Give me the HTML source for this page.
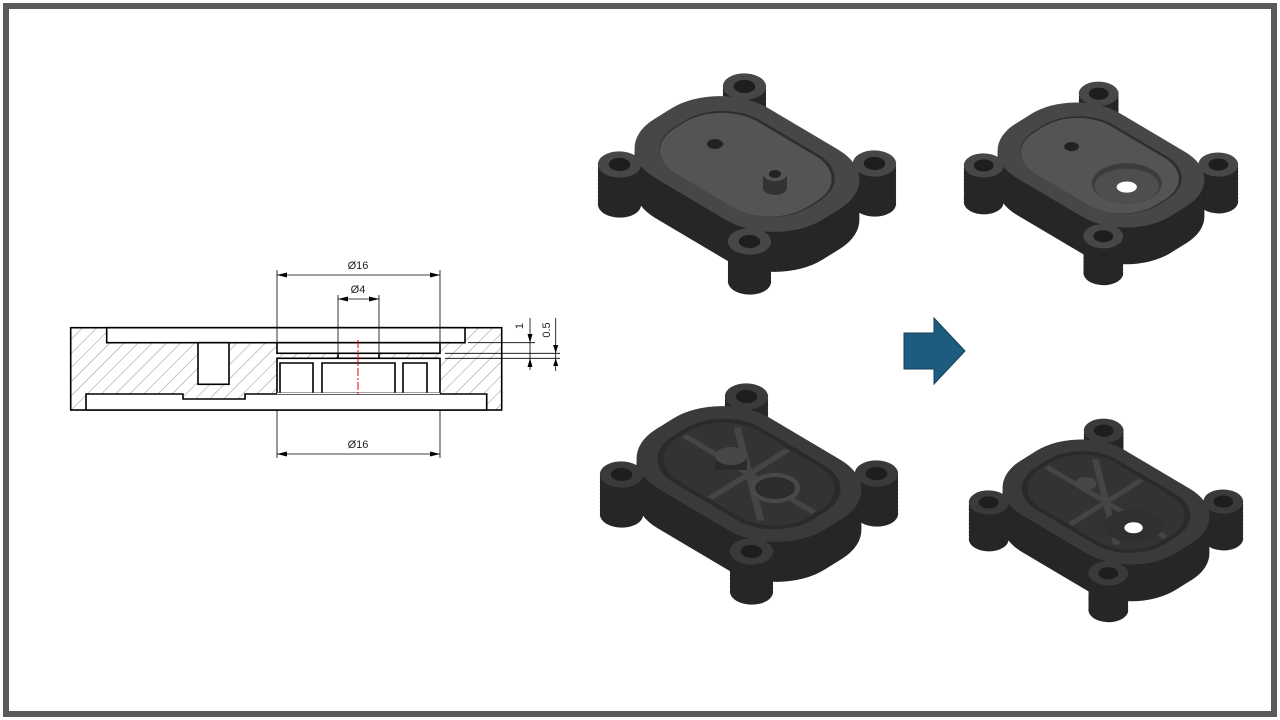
<!DOCTYPE html>
<html><head><meta charset="utf-8"><style>
html,body{margin:0;padding:0;background:#fff;}
body{width:1280px;height:720px;position:relative;overflow:hidden;font-family:"Liberation Sans",sans-serif;}
#frame{position:absolute;left:3px;top:3px;width:1262px;height:702px;border:6px solid #5a5a5a;}
svg{position:absolute;left:0;top:0;}
</style></head><body>
<div id="frame"></div>
<svg width="1280" height="720" viewBox="0 0 1280 720" xmlns="http://www.w3.org/2000/svg">
<defs>
<pattern id="hatch" patternUnits="userSpaceOnUse" width="10" height="10" patternTransform="rotate(45)">
<line x1="0" y1="0" x2="0" y2="10" stroke="#777" stroke-width="0.8"/>
</pattern>
<g id="plate">
<g transform="matrix(1.3,0.77,-1.25,0.78,0,0)">
<rect x="-65" y="-45" width="130" height="90" rx="38"/>
<circle cx="-50" cy="-50" r="12"/><circle cx="50" cy="50" r="12"/>
<circle cx="-50" cy="50" r="12"/><circle cx="50" cy="-50" r="12"/>
</g></g>
<g id="body">
<use href="#plate" transform="translate(0,40)"/><use href="#plate" transform="translate(0,36)"/>
<use href="#plate" transform="translate(0,32)"/><use href="#plate" transform="translate(0,28)"/>
<use href="#plate" transform="translate(0,24)"/><use href="#plate" transform="translate(0,20)"/>
<use href="#plate" transform="translate(0,16)"/><use href="#plate" transform="translate(0,12)"/>
<use href="#plate" transform="translate(0,8)"/><use href="#plate" transform="translate(0,4)"/>
</g>
<g id="lugholes" fill="#1e1e1e">
<g transform="matrix(1.3,0.77,-1.25,0.78,0,0)">
<circle cx="-50" cy="-50" r="6"/><circle cx="50" cy="50" r="6"/>
<circle cx="-50" cy="50" r="6"/><circle cx="50" cy="-50" r="6"/>
</g></g>
</defs>

<!-- cross section -->
<g stroke="#000" stroke-width="1.6" fill="#fff">
<rect x="70.7" y="327.7" width="431" height="82.3" fill="url(#hatch)"/>
<rect x="106.7" y="327.7" width="358.3" height="15"/>
<rect x="277" y="342.7" width="163" height="10.6"/>
<rect x="338" y="353.3" width="41" height="5"/>
<rect x="277" y="358.3" width="163" height="35"/>
<polygon points="86,410 86,394 183,394 183,399 245,399 245,394 486.7,394 486.7,410"/>
<rect x="198" y="342.7" width="31" height="41.6"/>
<polyline fill="none" points="280,393 280,363 313,363 313,393"/>
<polyline fill="none" points="322,393 322,363 395,363 395,393"/>
<polyline fill="none" points="403,393 403,363 427,363 427,393"/>
<line x1="277" y1="393.5" x2="440" y2="393.5" stroke="#fff" stroke-width="1.2"/>
</g>
<line x1="358" y1="340" x2="358" y2="396" stroke="#e00" stroke-width="1" stroke-dasharray="8,2,2,2"/>
<g stroke="#000" stroke-width="0.8" fill="none">
<line x1="277" y1="270" x2="277" y2="342"/><line x1="440" y1="270" x2="440" y2="342"/>
<line x1="277" y1="275" x2="440" y2="275"/>
<line x1="338" y1="295" x2="338" y2="353"/><line x1="379" y1="295" x2="379" y2="353"/>
<line x1="338" y1="299" x2="379" y2="299"/>
<line x1="277" y1="410" x2="277" y2="458"/><line x1="440" y1="410" x2="440" y2="458"/>
<line x1="277" y1="454" x2="440" y2="454"/>
<line x1="468" y1="342.7" x2="535" y2="342.7"/><line x1="445" y1="358.3" x2="560" y2="358.3"/>
<line x1="445" y1="353.3" x2="560" y2="353.3"/>
<line x1="530" y1="318" x2="530" y2="370"/><line x1="555.7" y1="318" x2="555.7" y2="371"/>
</g>
<g fill="#000">
<polygon points="277,275 287,272.5 287,277.5"/><polygon points="440,275 430,272.5 430,277.5"/>
<polygon points="338,299 348,296.5 348,301.5"/><polygon points="379,299 369,296.5 369,301.5"/>
<polygon points="277,454 287,451.5 287,456.5"/><polygon points="440,454 430,451.5 430,456.5"/>
<polygon points="530,342.7 527.5,334 532.5,334"/><polygon points="530,358.3 527.5,367 532.5,367"/>
<polygon points="555.7,353.3 553.2,345 558.2,345"/><polygon points="555.7,358.3 553.2,366 558.2,366"/>
</g>
<g font-size="11" fill="#222" text-anchor="middle">
<text x="358" y="269">Ø16</text>
<text x="358" y="293">Ø4</text>
<text x="358" y="448">Ø16</text>
<text x="0" y="0" transform="translate(523,326) rotate(-90)">1</text>
<text x="0" y="0" transform="translate(550,330) rotate(-90)">0.5</text>
</g>

<!-- arrow -->
<polygon points="904,333 934,333 934,318 965,351 934,384 934,369 904,369" fill="#1d5c7e" stroke="#123f58" stroke-width="1"/>

<!-- part 1 -->
<g transform="translate(747,164)">
<use href="#body" fill="#262626"/>
<use href="#plate" fill="#474747"/>
<g transform="matrix(1.3,0.77,-1.25,0.78,0,0)">
<rect x="-52" y="-34" width="104" height="68" rx="30" fill="#2e2e2e"/>
<rect x="-51" y="-32" width="102" height="66" rx="29" fill="#545454"/>
</g>
<ellipse cx="-32" cy="-20" rx="8" ry="5" fill="#222"/>
<rect x="16" y="10" width="24" height="14" fill="#333"/>
<ellipse cx="28" cy="24" rx="12" ry="7" fill="#333"/>
<ellipse cx="28" cy="10" rx="12" ry="7" fill="#555"/>
<ellipse cx="28" cy="10" rx="6" ry="4" fill="#222"/>
<use href="#lugholes"/>
</g>

<!-- part 2 -->
<g transform="translate(1101,165) scale(0.92)">
<use href="#body" fill="#262626"/>
<use href="#plate" fill="#474747"/>
<g transform="matrix(1.3,0.77,-1.25,0.78,0,0)">
<rect x="-52" y="-34" width="104" height="68" rx="30" fill="#2e2e2e"/>
<rect x="-51" y="-32" width="102" height="66" rx="29" fill="#545454"/>
</g>
<ellipse cx="-32" cy="-20" rx="8" ry="5" fill="#222"/>
<ellipse cx="28" cy="20" rx="38" ry="22" fill="#3c3c3c"/>
<ellipse cx="28" cy="23" rx="35" ry="19" fill="#4e4e4e"/>
<ellipse cx="28" cy="24" rx="11" ry="6" fill="#fff"/>
<use href="#lugholes"/>
</g>

<!-- part 3 -->
<g transform="translate(749,474)">
<use href="#body" fill="#262626"/>
<use href="#plate" fill="#3a3a3a"/>
<g transform="matrix(1.3,0.77,-1.25,0.78,0,0)">
<rect x="-54" y="-35" width="108" height="70" rx="30" fill="#2a2a2a"/>
<rect x="-51" y="-32" width="102" height="64" rx="28" fill="#333"/>
<g stroke="#454545" stroke-width="4">
<line x1="-50" y1="0" x2="50" y2="0"/><line x1="0" y1="-31" x2="0" y2="31"/>
<line x1="-34" y1="-26" x2="34" y2="26"/>
</g>
</g>
<rect x="-34" y="-18" width="32" height="14" fill="#2a2a2a"/>
<ellipse cx="-18" cy="-18" rx="16" ry="9" fill="#474747"/>
<ellipse cx="26" cy="14" rx="25" ry="15" fill="#484848"/>
<ellipse cx="26" cy="14" rx="20" ry="11" fill="#2c2c2c"/>
<use href="#lugholes"/>
</g>

<!-- part 4 -->
<g transform="translate(1106,502) scale(0.92)">
<use href="#body" fill="#262626"/>
<use href="#plate" fill="#3a3a3a"/>
<g transform="matrix(1.3,0.77,-1.25,0.78,0,0)">
<rect x="-54" y="-35" width="108" height="70" rx="30" fill="#2a2a2a"/>
<rect x="-51" y="-32" width="102" height="64" rx="28" fill="#333"/>
<g stroke="#454545" stroke-width="4">
<line x1="-50" y1="0" x2="50" y2="0"/><line x1="0" y1="-31" x2="0" y2="31"/>
<line x1="-34" y1="-26" x2="34" y2="26"/>
</g>
</g>
<ellipse cx="-22" cy="-20" rx="12" ry="7" fill="#474747"/>
<ellipse cx="30" cy="26" rx="32" ry="18" fill="#303030"/>
<ellipse cx="30" cy="28" rx="10" ry="6" fill="#fff"/>
<use href="#lugholes"/>
</g>
</svg>
</body></html>
